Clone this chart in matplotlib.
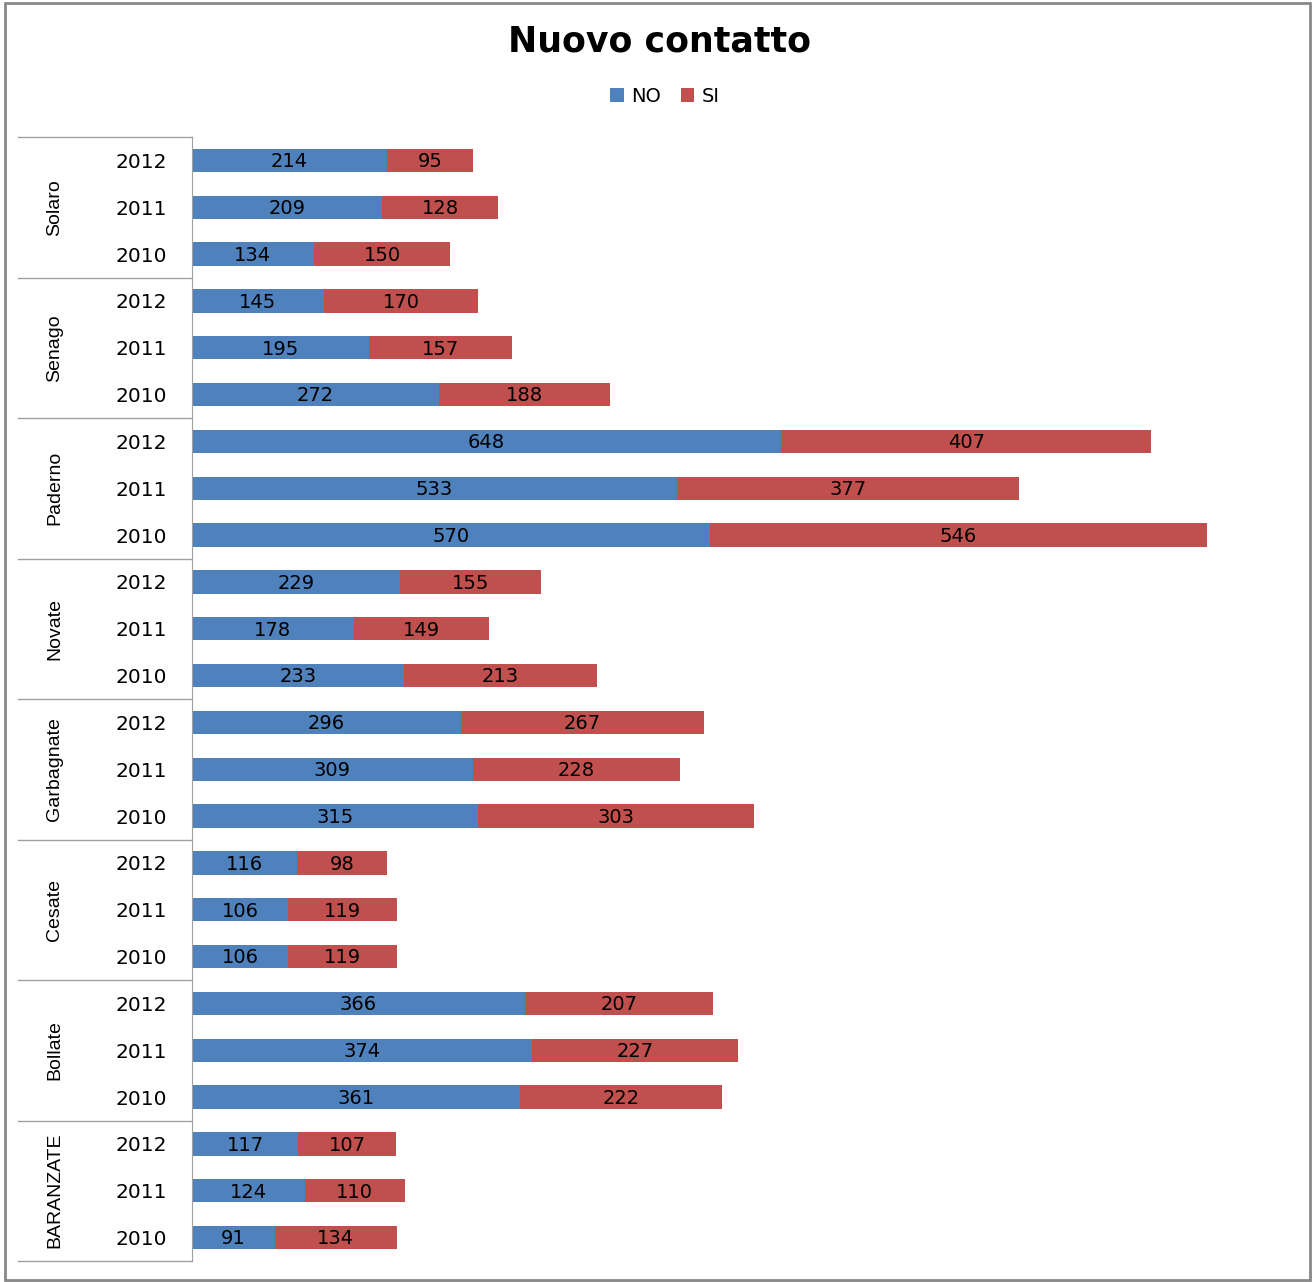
import numpy as np
import matplotlib.pyplot as plt
from matplotlib.patches import Rectangle

towns = ["Solaro", "Senago", "Paderno", "Novate", "Garbagnate", "Cesate", "Bollate", "BARANZATE"]
years = ["2012", "2011", "2010"]
no_vals = [214, 209, 134, 145, 195, 272, 648, 533, 570, 229, 178, 233,
           296, 309, 315, 116, 106, 106, 366, 374, 361, 117, 124, 91]
si_vals = [95, 128, 150, 170, 157, 188, 407, 377, 546, 155, 149, 213,
           267, 228, 303, 98, 119, 119, 207, 227, 222, 107, 110, 134]

blue = "#4F81BD"
red = "#C0504D"

W, H = 1312, 1282
fig = plt.figure(figsize=(W / 100, H / 100), dpi=100)
ax = fig.add_axes([192 / W, 1 - 1261 / H, (1283 - 192) / W, (1261 - 137) / H])

n = len(no_vals)
y = np.arange(n)
ax.barh(y, no_vals, height=0.5, color=blue, label="NO")
ax.barh(y, si_vals, left=no_vals, height=0.5, color=red, label="SI")

for i in range(n):
    ax.text(no_vals[i] / 2, y[i] + 0.03, str(no_vals[i]), ha="center", va="center", fontsize=14)
    ax.text(no_vals[i] + si_vals[i] / 2, y[i] + 0.03, str(si_vals[i]), ha="center", va="center", fontsize=14)

ax.set_xlim(0, 1200)
ax.set_ylim(n - 0.5, -0.5)
ax.set_xticks([])
ax.set_yticks(y)
ax.set_yticklabels(years * len(towns), fontsize=14.5)
ax.tick_params(axis="y", length=0, pad=18)
for s in ["top", "right", "bottom"]:
    ax.spines[s].set_visible(False)
ax.spines["left"].set_color("#a0a0a0")

# group separators and town labels
tr = ax.get_yaxis_transform()
x0 = (18 - 192) / (1283 - 192)
for g in range(len(towns) + 1):
    yy = g * 3 - 0.5
    ax.plot([x0, 0], [yy, yy], color="#a0a0a0", lw=1, transform=tr, clip_on=False)
for g, t in enumerate(towns):
    ax.text((55 - 192) / (1283 - 192), g * 3 + 1, t, rotation=90, ha="center", va="center",
            fontsize=14, family="Liberation Sans", transform=tr)

fig.text(660 / W, 1 - 42 / H, "Nuovo contatto", ha="center", va="center",
         fontsize=25, fontweight="bold")
fig.legend(loc="center", bbox_to_anchor=(665 / W, 1 - 96 / H), ncol=2, frameon=False,
           fontsize=14, handlelength=0.7, handleheight=0.7, columnspacing=1.0, handletextpad=0.4)

fig.patches.append(Rectangle((5 / W, 2 / H), 1305 / W, 1277 / H, transform=fig.transFigure,
                             fill=False, edgecolor="#888888", lw=2))

fig.savefig("out.png", dpi=100)
